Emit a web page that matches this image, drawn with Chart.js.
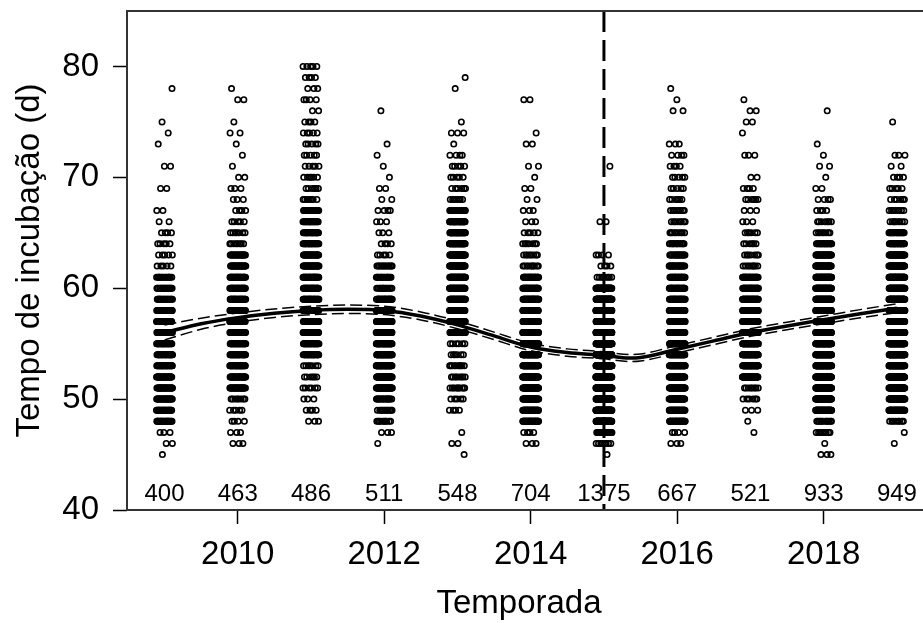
<!DOCTYPE html>
<html>
<head>
<meta charset="utf-8">
<title>Tempo de incubação por temporada</title>
<script src="https://cdn.jsdelivr.net/npm/chart.js@4.4.1/dist/chart.umd.min.js"></script>
<style>
  html, body { margin: 0; padding: 0; background: #fff; overflow: hidden; }
  #wrap { position: relative; width: 940px; height: 623px; }
</style>
</head>
<body>
<div id="wrap"><canvas id="incubacao" width="940" height="623"></canvas></div>
<script>
// Temporadas e número de ninhos por dia de incubação (a partir de dayMin)
var seasons = [2009, 2010, 2011, 2012, 2013, 2014, 2015, 2016, 2017, 2018, 2019];
var dayMin  = [45, 46, 48, 46, 45, 46, 45, 46, 47, 45, 46];

var counts2009 = [1, 2, 3, 24, 26, 28, 30, 30, 30, 30, 30, 28, 26, 24, 22, 20, 15, 5, 5, 5, 4, 2, 2, 0, 2, 0, 2, 0, 1, 1, 1, 0, 0, 1];
var counts2010 = [3, 3, 4, 5, 8, 31, 30, 32, 33, 34, 34, 34, 33, 32, 30, 28, 26, 22, 8, 7, 5, 4, 3, 3, 2, 1, 1, 1, 2, 1, 0, 2, 1];
var counts2011 = [3, 4, 3, 6, 6, 7, 30, 32, 31, 31, 31, 31, 31, 30, 29, 28, 26, 24, 22, 20, 7, 6, 6, 5, 5, 5, 5, 4, 2, 4, 3, 4, 5];
var counts2012 = [1, 3, 10, 12, 18, 42, 45, 46, 46, 46, 46, 44, 42, 38, 14, 16, 14, 5, 4, 3, 3, 4, 2, 2, 1, 1, 1, 1, 0, 0, 1];
var counts2013 = [1, 2, 1, 0, 4, 5, 10, 8, 10, 6, 6, 37, 40, 40, 42, 42, 42, 42, 42, 40, 36, 32, 26, 7, 6, 5, 5, 4, 1, 3, 1, 0, 0, 1, 1];
var counts2014 = [3, 4, 40, 44, 46, 49, 51, 53, 53, 53, 53, 51, 47, 43, 36, 30, 10, 8, 7, 5, 3, 3, 2, 2, 1, 2, 0, 2, 1, 0, 0, 2];
var counts2015 = [1, 8, 20, 86, 95, 102, 108, 112, 116, 118, 118, 112, 105, 95, 90, 70, 8, 4, 4, 0, 0, 2, 0, 0, 0, 0, 1];
var counts2016 = [3, 4, 38, 42, 40, 40, 42, 42, 42, 42, 42, 40, 38, 36, 32, 28, 24, 20, 16, 9, 8, 8, 6, 5, 5, 4, 4, 3, 0, 0, 2, 1, 1];
var counts2017 = [1, 1, 3, 6, 8, 45, 50, 50, 50, 50, 48, 46, 42, 36, 30, 9, 7, 6, 6, 3, 3, 6, 4, 2, 0, 3, 0, 1, 2, 2, 1];
var counts2018 = [3, 1, 8, 12, 60, 64, 62, 63, 64, 64, 64, 64, 62, 60, 56, 52, 46, 40, 32, 25, 8, 7, 4, 4, 2, 1, 2, 1, 1, 0, 0, 1];
var counts2019 = [1, 1, 8, 53, 56, 58, 60, 62, 64, 64, 64, 64, 62, 60, 56, 50, 44, 36, 28, 20, 9, 8, 6, 5, 4, 2, 3, 0, 0, 1];

var seasonCounts = [counts2009, counts2010, counts2011, counts2012, counts2013, counts2014,
                    counts2015, counts2016, counts2017, counts2018, counts2019];

// Curva ajustada e intervalo de confiança
var fitYears = [2009, 2009.5, 2010, 2010.5, 2011, 2011.5, 2012, 2012.5, 2013, 2013.5, 2014, 2014.5,
                2015, 2015.35, 2015.5, 2016, 2016.5, 2017, 2017.5, 2018, 2018.5, 2019];
var fitMean  = [56.0, 56.8, 57.35, 57.75, 58.0, 58.1, 58.0, 57.5, 56.7, 55.7, 54.7, 54.2,
                53.95, 53.7, 53.75, 54.5, 55.25, 56.0, 56.6, 57.15, 57.7, 58.2];
var fitLower = [55.32, 56.3, 56.93, 57.37, 57.62, 57.72, 57.62, 57.14, 56.35, 55.36, 54.36, 53.87,
                53.63, 53.38, 53.43, 54.17, 54.92, 55.66, 56.26, 56.8, 57.33, 57.8];
var fitUpper = [56.68, 57.3, 57.77, 58.13, 58.38, 58.48, 58.38, 57.86, 57.05, 56.04, 55.04, 54.53,
                54.27, 54.02, 54.07, 54.83, 55.58, 56.34, 56.94, 57.5, 58.07, 58.6];

var breakYear = 2015;
var xTicks = [2010, 2012, 2014, 2016, 2018];
var yTicks = [40, 50, 60, 70, 80];
var countLabelY = 41.4;

var fontFamily = "'Liberation Sans', Arial, Helvetica, sans-serif";

function sum(arr) {
  var s = 0;
  for (var i = 0; i < arr.length; i++) s += arr[i];
  return s;
}

// espalha os pontos de cada dia na horizontal (jitter determinístico)
var jitterHalf = 0.11;
var nestPoints = [];
var k = 0;
for (var i = 0; i < seasons.length; i++) {
  var c = seasonCounts[i];
  for (var j = 0; j < c.length; j++) {
    for (var m = 0; m < c[j]; m++) {
      var u = (k * 0.6180339887 + 0.37) % 1;
      nestPoints.push({ x: seasons[i] + (2 * u - 1) * jitterHalf, y: dayMin[i] + j });
      k++;
    }
  }
}

function toXY(xs, ys) {
  var out = [];
  for (var i = 0; i < xs.length; i++) out.push({ x: xs[i], y: ys[i] });
  return out;
}

// caixa, rótulos de n e títulos dos eixos
var extras = {
  id: "extras",
  afterDatasetsDraw: function (chart) {
    var ctx = chart.ctx;
    var a = chart.chartArea;
    var xs = chart.scales.x, ys = chart.scales.y;
    ctx.save();
    ctx.strokeStyle = "#333";
    ctx.lineWidth = 2;
    ctx.strokeRect(a.left, a.top, a.right - a.left, a.bottom - a.top);

    ctx.fillStyle = "#000";
    ctx.font = "24px " + fontFamily;
    ctx.textAlign = "center";
    ctx.textBaseline = "middle";
    for (var i = 0; i < seasons.length; i++) {
      ctx.fillText(String(sum(seasonCounts[i])), xs.getPixelForValue(seasons[i]), ys.getPixelForValue(countLabelY));
    }

    ctx.font = "33px " + fontFamily;
    ctx.fillText("Temporada", 519, 604);
    ctx.translate(30, (a.top + a.bottom) / 2);
    ctx.rotate(-Math.PI / 2);
    ctx.fillText("Tempo de incubação (d)", 0, 0);
    ctx.restore();
  }
};

var ctx = document.getElementById("incubacao").getContext("2d");

var chart = new Chart(ctx, {
  type: "scatter",
  data: {
    datasets: [
      {
        data: [{ x: breakYear, y: 85 }, { x: breakYear, y: 40 }],
        showLine: true,
        borderColor: "#000",
        borderWidth: 3,
        borderDash: [21, 8],
        pointRadius: 0,
        order: 0
      },
      {
        data: toXY(fitYears, fitMean),
        showLine: true,
        borderColor: "#000",
        borderWidth: 3.5,
        cubicInterpolationMode: "monotone",
        pointRadius: 0,
        order: 1
      },
      {
        data: toXY(fitYears, fitUpper),
        showLine: true,
        borderColor: "#000",
        borderWidth: 1.5,
        borderDash: [12, 5],
        cubicInterpolationMode: "monotone",
        pointRadius: 0,
        order: 2
      },
      {
        data: toXY(fitYears, fitLower),
        showLine: true,
        borderColor: "#000",
        borderWidth: 1.5,
        borderDash: [12, 5],
        cubicInterpolationMode: "monotone",
        pointRadius: 0,
        order: 2
      },
      {
        data: nestPoints,
        pointRadius: 2.7,
        pointBorderWidth: 1.6,
        pointBorderColor: "#000",
        pointBackgroundColor: "rgba(0,0,0,0)",
        order: 3
      }
    ]
  },
  options: {
    responsive: false,
    animation: false,
    events: [],
    layout: { padding: { left: 0, top: 11, right: 5, bottom: 0 } },
    plugins: {
      legend: { display: false },
      tooltip: { enabled: false }
    },
    scales: {
      x: {
        type: "linear",
        min: 2008.488,
        max: 2019.512,
        afterBuildTicks: function (s) { s.ticks = xTicks.map(function (v) { return { value: v }; }); },
        afterFit: function (s) { s.height = 113; s.paddingLeft = 0; s.paddingRight = 0; },
        border: { display: false },
        grid: { drawOnChartArea: false, drawTicks: true, tickLength: 14, tickWidth: 1.5, tickColor: "#000" },
        ticks: {
          color: "#000",
          padding: 11,
          maxRotation: 0,
          autoSkip: false,
          font: { family: fontFamily, size: 33 },
          callback: function (v) { return String(v); }
        }
      },
      y: {
        type: "linear",
        min: 40,
        max: 85,
        afterBuildTicks: function (s) { s.ticks = yTicks.map(function (v) { return { value: v }; }); },
        afterFit: function (s) { s.width = 127; s.paddingTop = 0; s.paddingBottom = 0; },
        border: { display: false },
        grid: { drawOnChartArea: false, drawTicks: true, tickLength: 14, tickWidth: 1.5, tickColor: "#000" },
        ticks: {
          color: "#000",
          padding: 14,
          font: { family: fontFamily, size: 33 },
          callback: function (v) { return String(v); }
        }
      }
    }
  },
  plugins: [extras]
});
</script>
</body>
</html>
